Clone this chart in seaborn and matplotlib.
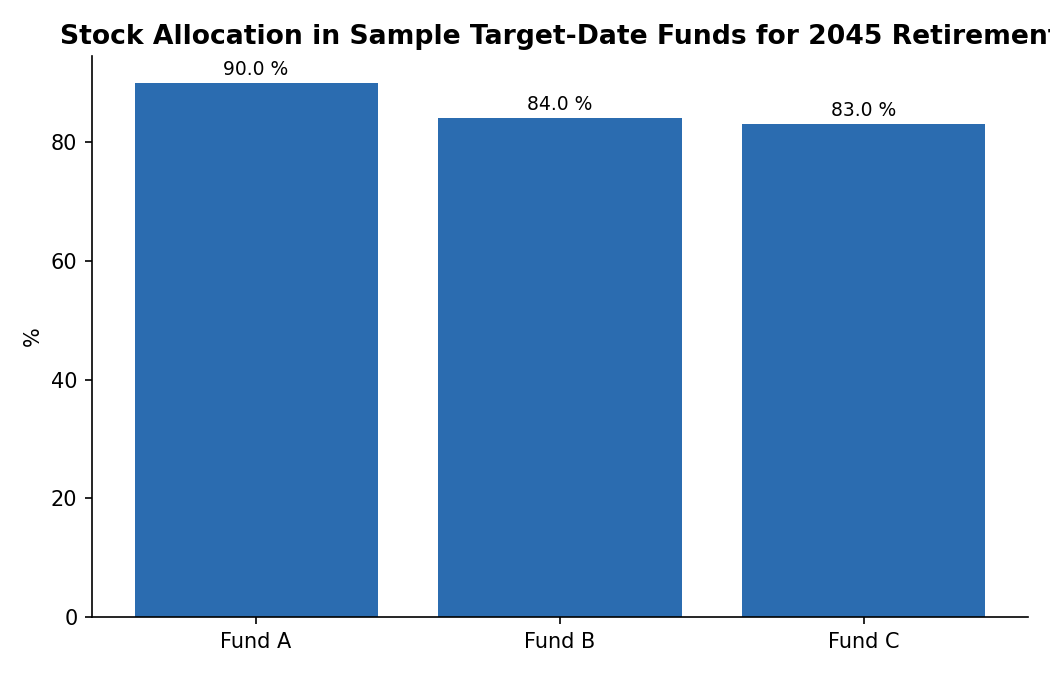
import pandas as pd
import seaborn as sns
import matplotlib.pyplot as plt

# dane
fundusze = ['Fund A', 'Fund B', 'Fund C']
akcje_proc = [90.0, 84.0, 83.0]

KOLOR = '#2b6cb0'

plt.rcParams['font.family'] = ['DejaVu Sans']

df = pd.DataFrame({'Fund': fundusze, 'Stock': akcje_proc})

fig = plt.figure(figsize=(7, 4.5), dpi=150)
ax = fig.add_axes([0.0876, 0.0859, 0.8914, 0.8311])

sns.barplot(data=df, x='Fund', y='Stock', color=KOLOR, saturation=1,
            width=0.8, ax=ax, errorbar=None, edgecolor='none', linewidth=0)

# etykiety nad słupkami
for p, v in zip(ax.patches, akcje_proc):
    ax.annotate(f'{v:.1f} %', (p.get_x() + p.get_width() / 2, p.get_height()),
                xytext=(0, 2), textcoords='offset points',
                ha='center', va='bottom', fontsize=9)

ax.set_xlim(-0.54, 2.54)
ax.set_ylim(0, 94.5)
ax.set_xlabel('')
ax.set_ylabel('%')
sns.despine(ax=ax)
ax.set_title('Stock Allocation in Sample Target-Date Funds for 2045 Retirement',
             fontsize=12.8, fontweight='bold')

fig.savefig('out.png', dpi=150)
